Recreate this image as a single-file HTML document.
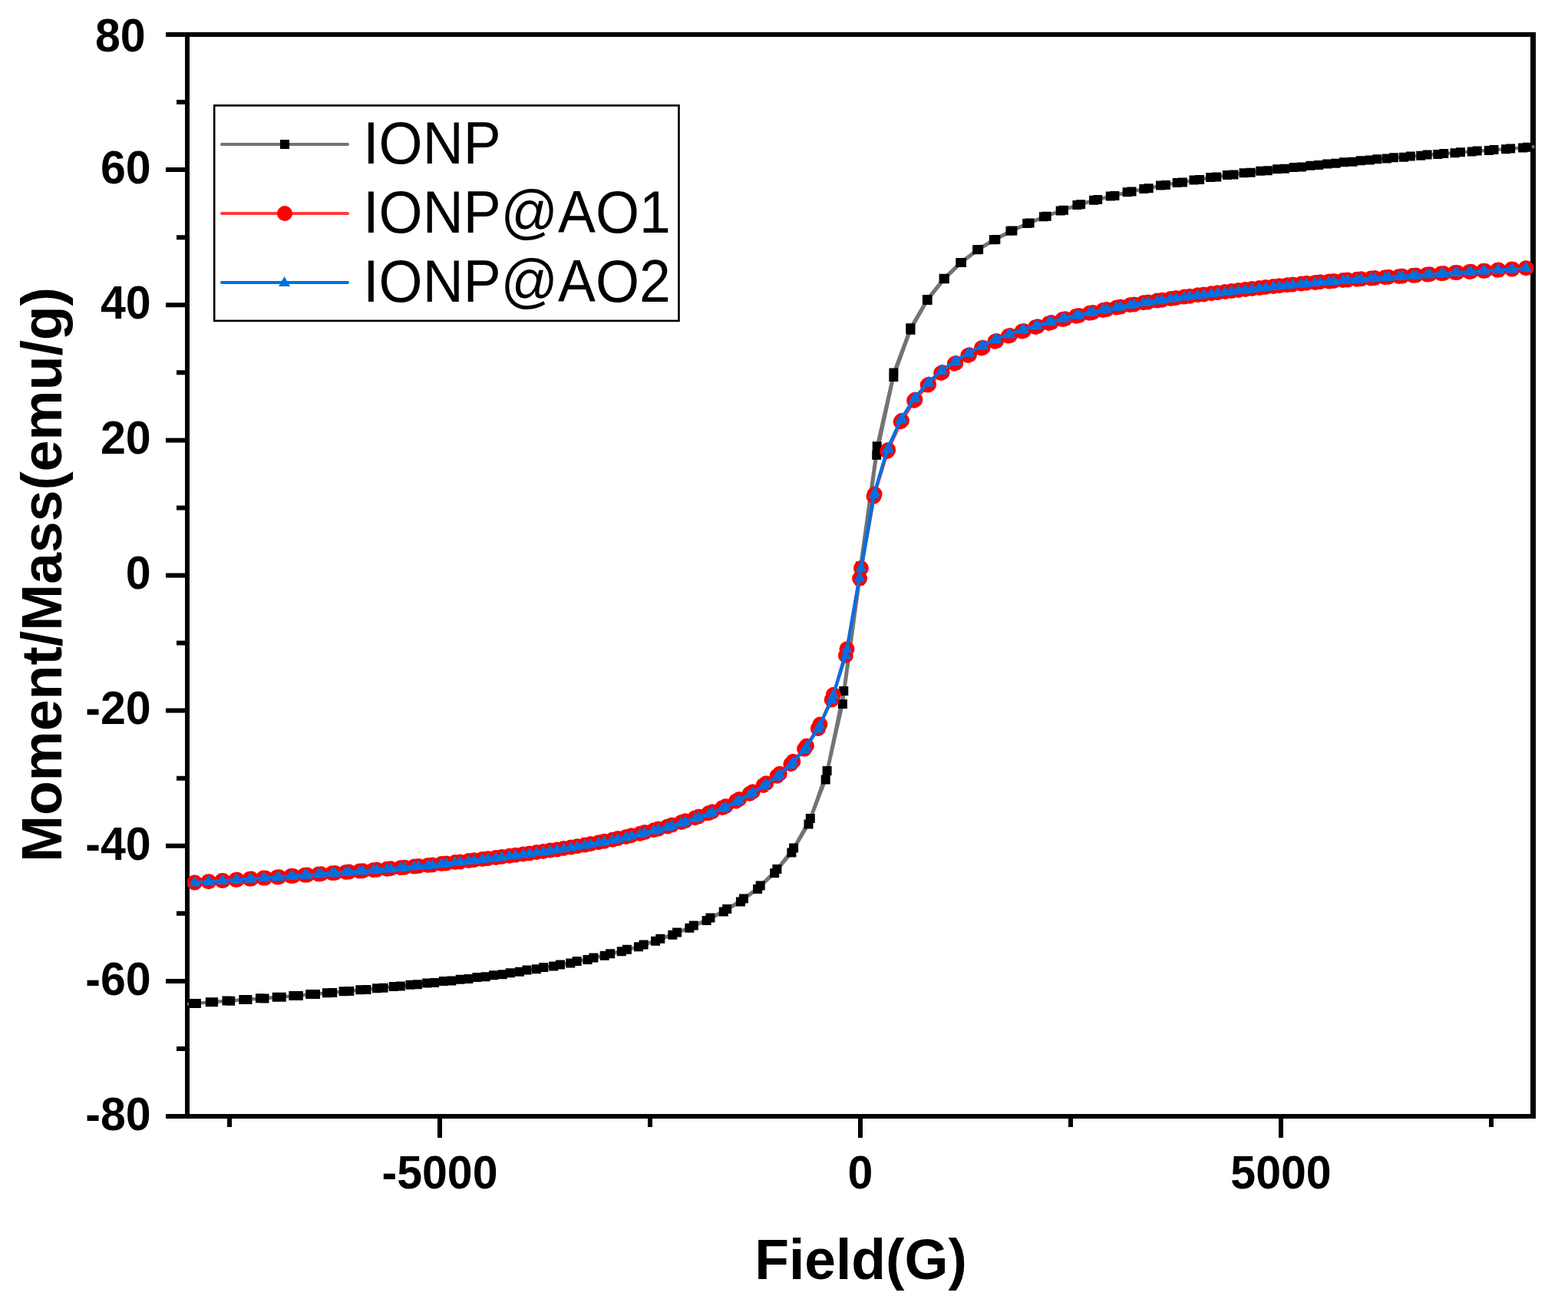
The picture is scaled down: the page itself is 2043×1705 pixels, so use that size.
<!DOCTYPE html>
<html><head><meta charset="utf-8"><title>Moment/Mass vs Field</title>
<style>html,body{margin:0;padding:0;background:#fff;}svg{display:block;}.ff{font-family:"Liberation Sans",Arial,sans-serif;}</style>
</head><body>
<svg width="2043" height="1705" viewBox="0 0 2043 1705">
<defs><clipPath id="cp"><rect x="244.0" y="42.0" width="1755.5" height="1415.0"/></clipPath>
</defs>
<rect width="100%" height="100%" fill="#fff"/>
<path d="M216 1454 H244 M216 1277.9 H244 M216 1101.8 H244 M216 925.6 H244 M216 749.5 H244 M216 573.4 H244 M216 397.2 H244 M216 221.1 H244 M216 45 H244 M230 1365.9 H244 M230 1189.8 H244 M230 1013.7 H244 M230 837.6 H244 M230 661.4 H244 M230 485.3 H244 M230 309.2 H244 M230 133.1 H244 M573 1454 V1482 M1121 1454 V1482 M1669 1454 V1482 M299 1454 V1468 M847 1454 V1468 M1395 1454 V1468 M1943 1454 V1468" stroke="#000" stroke-width="6" fill="none"/>
<path fill="#000" d="M241 42H2001V48H241z M241 1451H2001V1457H241z M241 42H247V1457H241z M1994 42H2001V1457H1994z"/>
<g class="ff" font-weight="bold" font-size="62" fill="#000">
<text transform="translate(196.7 1471.8) scale(0.953 1)" text-anchor="end">-80</text>
<text transform="translate(196.7 1295.7) scale(0.953 1)" text-anchor="end">-60</text>
<text transform="translate(196.7 1119.5) scale(0.953 1)" text-anchor="end">-40</text>
<text transform="translate(196.7 943.4) scale(0.953 1)" text-anchor="end">-20</text>
<text transform="translate(196.7 767.3) scale(0.953 1)" text-anchor="end">0</text>
<text transform="translate(196.7 591.2) scale(0.953 1)" text-anchor="end">20</text>
<text transform="translate(196.7 415.1) scale(0.953 1)" text-anchor="end">40</text>
<text transform="translate(196.7 238.9) scale(0.953 1)" text-anchor="end">60</text>
<text transform="translate(189.6 67.3) scale(0.953 1)" text-anchor="end">80</text>
<text transform="translate(573 1548.4) scale(0.953 1)" text-anchor="middle">-5000</text>
<text transform="translate(1121 1548.4) scale(0.953 1)" text-anchor="middle">0</text>
<text transform="translate(1669 1548.4) scale(0.953 1)" text-anchor="middle">5000</text>
</g>
<g class="ff" font-weight="bold" font-size="75" fill="#000">
<text transform="translate(1121.5 1666) scale(0.977 1)" text-anchor="middle">Field(G)</text>
<text transform="translate(80 748.5) rotate(-90) scale(0.977 1)" text-anchor="middle">Moment/Mass(emu/g)</text>
</g>
<g clip-path="url(#cp)">
<path d="M1999.4 191.1 L1989.9 191.7 L1968.2 193.4 L1946.5 195 L1924.7 196.6 L1903 198.2 L1881.3 199.9 L1859.6 201.6 L1837.8 203.4 L1816.1 205.3 L1794.4 207.3 L1772.7 209.3 L1751 211.3 L1729.2 213.5 L1707.5 215.7 L1685.8 218 L1664.1 220.3 L1642.3 222.8 L1620.6 225.3 L1598.9 228.1 L1577.2 231.1 L1555.5 234.6 L1533.7 238 L1512 241.6 L1490.3 245.9 L1468.6 250.3 L1446.8 255.5 L1425.1 260.7 L1403.4 266.9 L1381.7 274.4 L1359.9 282.3 L1338.2 291.1 L1316.5 300.8 L1294.8 312.2 L1273.1 325.3 L1251.3 341.9 L1229.6 362.8 L1207.9 389.9 L1186.2 427.3 L1164.4 485.6 L1142.7 581.3 L1121 737.4 L1099.3 900 L1077.6 1004 L1055.8 1065.9 L1034.1 1104.4 L1012.4 1132.1 L990.7 1153.5 L968.9 1170.5 L947.2 1184 L925.5 1195.6 L903.8 1205.6 L882.1 1214.6 L860.3 1222.7 L838.6 1230.4 L816.9 1236.8 L795.2 1242.2 L773.4 1247.5 L751.7 1252 L730 1256.5 L708.3 1260.1 L686.5 1263.6 L664.8 1267.2 L643.1 1270.3 L621.4 1273.1 L599.7 1275.7 L577.9 1278.1 L556.2 1280.5 L534.5 1282.8 L512.8 1285 L491 1287.2 L469.3 1289.3 L447.6 1291.3 L425.9 1293.2 L404.2 1295.1 L382.4 1296.9 L360.7 1298.7 L339 1300.3 L317.3 1301.9 L295.5 1303.6 L273.8 1305.2 L252.1 1306.9 L242.6 1307.9 L255.9 1307 L278.1 1305.3 L300.2 1303.7 L322.4 1302 L344.5 1300.4 L366.7 1298.7 L388.8 1296.9 L411 1295 L433.2 1293 L455.3 1291 L477.5 1289 L499.6 1286.8 L521.8 1284.6 L543.9 1282.3 L566.1 1279.9 L588.3 1277.5 L610.4 1274.9 L632.6 1272.2 L654.7 1269.2 L676.9 1265.8 L699 1262.2 L721.2 1258.6 L743.3 1254.4 L765.5 1249.9 L787.7 1244.7 L809.8 1239.3 L832 1233.3 L854.1 1225.8 L876.3 1217.7 L898.4 1208.8 L920.6 1198.9 L942.8 1187.6 L964.9 1174.5 L987.1 1158.1 L1009.2 1137.3 L1031.4 1110.6 L1053.5 1073.6 L1075.7 1015.6 L1097.9 916.9 L1120 756.3 L1142.2 592.7 L1164.3 490.9 L1186.5 429.7 L1208.6 391.1 L1230.8 363.3 L1253 342 L1275.1 325.1 L1297.3 311.9 L1319.4 300.4 L1341.6 290.6 L1363.7 281.7 L1385.9 273.7 L1408.1 266.2 L1430.2 260.1 L1452.4 254.9 L1474.5 249.6 L1496.7 245.3 L1518.8 240.9 L1541 237.4 L1563.1 233.9 L1585.3 230.4 L1607.5 227.5 L1629.6 224.7 L1651.8 222.2 L1673.9 219.7 L1696.1 217.4 L1718.2 215.1 L1740.4 212.8 L1762.6 210.7 L1784.7 208.6 L1806.9 206.6 L1829 204.7 L1851.2 202.8 L1873.3 201 L1895.5 199.2 L1917.7 197.6 L1939.8 195.9 L1962 194.3 L1984.1 192.6 L1999.4 191.1" fill="none" stroke="#737373" stroke-width="4" stroke-linejoin="round" stroke-linecap="round"/>
<path fill="#000" d="M1983.9 185.7h12v12h-12zM1962.2 187.4h12v12h-12zM1940.5 189h12v12h-12zM1918.7 190.6h12v12h-12zM1897 192.2h12v12h-12zM1875.3 193.9h12v12h-12zM1853.6 195.6h12v12h-12zM1831.8 197.4h12v12h-12zM1810.1 199.3h12v12h-12zM1788.4 201.3h12v12h-12zM1766.7 203.3h12v12h-12zM1745 205.3h12v12h-12zM1723.2 207.5h12v12h-12zM1701.5 209.7h12v12h-12zM1679.8 212h12v12h-12zM1658.1 214.3h12v12h-12zM1636.3 216.8h12v12h-12zM1614.6 219.3h12v12h-12zM1592.9 222.1h12v12h-12zM1571.2 225.1h12v12h-12zM1549.5 228.6h12v12h-12zM1527.7 232h12v12h-12zM1506 235.6h12v12h-12zM1484.3 239.9h12v12h-12zM1462.6 244.3h12v12h-12zM1440.8 249.5h12v12h-12zM1419.1 254.7h12v12h-12zM1397.4 260.9h12v12h-12zM1375.7 268.4h12v12h-12zM1353.9 276.3h12v12h-12zM1332.2 285.1h12v12h-12zM1310.5 294.8h12v12h-12zM1288.8 306.2h12v12h-12zM1267.1 319.3h12v12h-12zM1245.3 335.9h12v12h-12zM1223.6 356.8h12v12h-12zM1201.9 383.9h12v12h-12zM1180.2 421.3h12v12h-12zM1158.4 479.6h12v12h-12zM1136.7 575.3h12v12h-12zM1115 731.4h12v12h-12zM1093.3 894h12v12h-12zM1071.6 998h12v12h-12zM1049.8 1059.9h12v12h-12zM1028.1 1098.4h12v12h-12zM1006.4 1126.1h12v12h-12zM984.7 1147.5h12v12h-12zM962.9 1164.5h12v12h-12zM941.2 1178h12v12h-12zM919.5 1189.6h12v12h-12zM897.8 1199.6h12v12h-12zM876.1 1208.6h12v12h-12zM854.3 1216.7h12v12h-12zM832.6 1224.4h12v12h-12zM810.9 1230.8h12v12h-12zM789.2 1236.2h12v12h-12zM767.4 1241.5h12v12h-12zM745.7 1246h12v12h-12zM724 1250.5h12v12h-12zM702.3 1254.1h12v12h-12zM680.5 1257.6h12v12h-12zM658.8 1261.2h12v12h-12zM637.1 1264.3h12v12h-12zM615.4 1267.1h12v12h-12zM593.7 1269.7h12v12h-12zM571.9 1272.1h12v12h-12zM550.2 1274.5h12v12h-12zM528.5 1276.8h12v12h-12zM506.8 1279h12v12h-12zM485 1281.2h12v12h-12zM463.3 1283.3h12v12h-12zM441.6 1285.3h12v12h-12zM419.9 1287.2h12v12h-12zM398.2 1289.1h12v12h-12zM376.4 1290.9h12v12h-12zM354.7 1292.7h12v12h-12zM333 1294.3h12v12h-12zM311.3 1295.9h12v12h-12zM289.5 1297.6h12v12h-12zM267.8 1299.2h12v12h-12zM246.1 1300.9h12v12h-12zM249.9 1301h12v12h-12zM272.1 1299.3h12v12h-12zM294.2 1297.7h12v12h-12zM316.4 1296h12v12h-12zM338.5 1294.4h12v12h-12zM360.7 1292.7h12v12h-12zM382.8 1290.9h12v12h-12zM405 1289h12v12h-12zM427.2 1287h12v12h-12zM449.3 1285h12v12h-12zM471.5 1283h12v12h-12zM493.6 1280.8h12v12h-12zM515.8 1278.6h12v12h-12zM537.9 1276.3h12v12h-12zM560.1 1273.9h12v12h-12zM582.3 1271.5h12v12h-12zM604.4 1268.9h12v12h-12zM626.6 1266.2h12v12h-12zM648.7 1263.2h12v12h-12zM670.9 1259.8h12v12h-12zM693 1256.2h12v12h-12zM715.2 1252.6h12v12h-12zM737.3 1248.4h12v12h-12zM759.5 1243.9h12v12h-12zM781.7 1238.7h12v12h-12zM803.8 1233.3h12v12h-12zM826 1227.3h12v12h-12zM848.1 1219.8h12v12h-12zM870.3 1211.7h12v12h-12zM892.4 1202.8h12v12h-12zM914.6 1192.9h12v12h-12zM936.8 1181.6h12v12h-12zM958.9 1168.5h12v12h-12zM981.1 1152.1h12v12h-12zM1003.2 1131.3h12v12h-12zM1025.4 1104.6h12v12h-12zM1047.5 1067.6h12v12h-12zM1069.7 1009.6h12v12h-12zM1091.9 910.9h12v12h-12zM1114 750.3h12v12h-12zM1136.2 586.7h12v12h-12zM1158.3 484.9h12v12h-12zM1180.5 423.7h12v12h-12zM1202.6 385.1h12v12h-12zM1224.8 357.3h12v12h-12zM1247 336h12v12h-12zM1269.1 319.1h12v12h-12zM1291.3 305.9h12v12h-12zM1313.4 294.4h12v12h-12zM1335.6 284.6h12v12h-12zM1357.7 275.7h12v12h-12zM1379.9 267.7h12v12h-12zM1402.1 260.2h12v12h-12zM1424.2 254.1h12v12h-12zM1446.4 248.9h12v12h-12zM1468.5 243.6h12v12h-12zM1490.7 239.3h12v12h-12zM1512.8 234.9h12v12h-12zM1535 231.4h12v12h-12zM1557.1 227.9h12v12h-12zM1579.3 224.4h12v12h-12zM1601.5 221.5h12v12h-12zM1623.6 218.7h12v12h-12zM1645.8 216.2h12v12h-12zM1667.9 213.7h12v12h-12zM1690.1 211.4h12v12h-12zM1712.2 209.1h12v12h-12zM1734.4 206.8h12v12h-12zM1756.6 204.7h12v12h-12zM1778.7 202.6h12v12h-12zM1800.9 200.6h12v12h-12zM1823 198.7h12v12h-12zM1845.2 196.8h12v12h-12zM1867.3 195h12v12h-12zM1889.5 193.2h12v12h-12zM1911.7 191.6h12v12h-12zM1933.8 189.9h12v12h-12zM1956 188.3h12v12h-12zM1978.1 186.6h12v12h-12z"/>
<path d="M1988.8 349.2 L1970.7 350.4 L1952.7 351.6 L1934.7 352.7 L1916.7 353.8 L1898.7 354.9 L1880.8 356 L1862.9 357.2 L1845 358.4 L1827.1 359.6 L1809.2 360.8 L1791.3 362 L1773.5 363.3 L1755.7 364.6 L1737.9 365.9 L1720.1 367.3 L1702.3 368.8 L1684.5 370.4 L1666.8 372.2 L1649 374 L1631.3 376 L1613.6 378 L1595.9 380.1 L1578.2 382.2 L1560.5 384.3 L1542.9 386.6 L1525.2 389 L1507.6 391.6 L1489.9 394.3 L1472.3 397.3 L1454.7 400.5 L1437.1 404 L1419.5 407.8 L1401.9 411.8 L1384.3 416.1 L1366.7 420.9 L1349.1 426 L1331.6 431.6 L1314 437.6 L1296.4 444.7 L1278.9 453.4 L1261.3 462.9 L1243.8 473.7 L1226.2 485.9 L1208.7 501.6 L1191.1 521.7 L1173.6 549.3 L1156.1 587.8 L1138.5 646.4 L1121.9 740.1 L1103.5 845.2 L1085.9 904.7 L1068.4 943.6 L1050.9 971.5 L1033.3 991.8 L1015.8 1007.8 L998.2 1020.2 L980.7 1031.3 L963.1 1041 L945.6 1050 L928 1057.3 L910.4 1063.5 L892.9 1069.3 L875.3 1074.6 L857.7 1079.6 L840.1 1084.1 L822.5 1088.3 L804.9 1092.1 L787.3 1095.7 L769.7 1099.1 L752.1 1102.2 L734.4 1105 L716.8 1107.6 L699.1 1110.1 L681.5 1112.5 L663.8 1114.7 L646.1 1116.9 L628.4 1119 L610.7 1121.1 L593 1123.1 L575.2 1125.1 L557.5 1126.9 L539.7 1128.6 L521.9 1130.2 L504.1 1131.7 L486.3 1133.2 L468.5 1134.6 L450.7 1135.9 L432.8 1137.2 L414.9 1138.5 L397 1139.8 L379.1 1141.1 L361.2 1142.4 L343.3 1143.6 L325.3 1144.7 L307.3 1145.9 L289.3 1147.1 L271.3 1148.3 L253.2 1149.5 L254.1 1149.5 L272.4 1148.2 L290.7 1147 L309 1145.8 L327.3 1144.6 L345.5 1143.4 L363.8 1142.2 L382 1140.9 L400.2 1139.6 L418.4 1138.3 L436.6 1137 L454.7 1135.6 L472.8 1134.3 L491 1132.8 L509.1 1131.3 L527.2 1129.8 L545.2 1128.1 L563.3 1126.4 L581.5 1124.5 L599.6 1122.4 L617.6 1120.3 L635.7 1118.2 L653.8 1116 L671.8 1113.7 L689.9 1111.4 L707.9 1109 L725.9 1106.4 L743.9 1103.6 L761.9 1100.6 L779.9 1097.3 L797.9 1093.7 L815.8 1089.9 L833.8 1085.7 L851.8 1081.3 L869.7 1076.4 L887.6 1071.1 L905.5 1065.3 L923.4 1059.1 L941.2 1052.1 L959 1043.4 L976.8 1033.8 L994.7 1022.9 L1012.5 1010.7 L1030.3 995.3 L1048.1 975.6 L1065.9 948.9 L1083.7 911.4 L1101.9 853.8 L1120.1 753.5 L1139.6 643.6 L1157.2 585.9 L1174.9 547.8 L1192.5 520.6 L1210.1 500.7 L1227.7 485.1 L1245.3 473 L1263 462.2 L1280.6 452.8 L1298.2 444.1 L1315.9 437.1 L1333.8 431 L1351.8 425.3 L1369.8 420.1 L1387.8 415.3 L1405.9 410.9 L1423.9 406.9 L1441.9 403.1 L1459.9 399.6 L1477.9 396.4 L1495.9 393.4 L1514 390.7 L1532.1 388.1 L1550.3 385.7 L1568.4 383.4 L1586.5 381.2 L1604.7 379.1 L1622.8 377 L1640.9 375 L1659 373 L1677.1 371.2 L1695.3 369.5 L1713.4 367.9 L1731.6 366.4 L1749.8 365 L1768 363.7 L1786.2 362.4 L1804.5 361.2 L1822.7 359.9 L1841 358.7 L1859.3 357.4 L1877.6 356.3 L1895.9 355.1 L1914.3 354 L1932.6 352.8 L1951 351.7 L1969.4 350.5 L1987.9 349.3" fill="none" stroke="#ff3c3c" stroke-width="4" stroke-linejoin="round" stroke-linecap="round"/>
<path fill="#ff0000" d="M1978.8 349.2a10 10 0 1 0 20 0a10 10 0 1 0 -20 0zM1960.7 350.4a10 10 0 1 0 20 0a10 10 0 1 0 -20 0zM1942.7 351.6a10 10 0 1 0 20 0a10 10 0 1 0 -20 0zM1924.7 352.7a10 10 0 1 0 20 0a10 10 0 1 0 -20 0zM1906.7 353.8a10 10 0 1 0 20 0a10 10 0 1 0 -20 0zM1888.7 354.9a10 10 0 1 0 20 0a10 10 0 1 0 -20 0zM1870.8 356a10 10 0 1 0 20 0a10 10 0 1 0 -20 0zM1852.9 357.2a10 10 0 1 0 20 0a10 10 0 1 0 -20 0zM1835 358.4a10 10 0 1 0 20 0a10 10 0 1 0 -20 0zM1817.1 359.6a10 10 0 1 0 20 0a10 10 0 1 0 -20 0zM1799.2 360.8a10 10 0 1 0 20 0a10 10 0 1 0 -20 0zM1781.3 362a10 10 0 1 0 20 0a10 10 0 1 0 -20 0zM1763.5 363.3a10 10 0 1 0 20 0a10 10 0 1 0 -20 0zM1745.7 364.6a10 10 0 1 0 20 0a10 10 0 1 0 -20 0zM1727.9 365.9a10 10 0 1 0 20 0a10 10 0 1 0 -20 0zM1710.1 367.3a10 10 0 1 0 20 0a10 10 0 1 0 -20 0zM1692.3 368.8a10 10 0 1 0 20 0a10 10 0 1 0 -20 0zM1674.5 370.4a10 10 0 1 0 20 0a10 10 0 1 0 -20 0zM1656.8 372.2a10 10 0 1 0 20 0a10 10 0 1 0 -20 0zM1639 374a10 10 0 1 0 20 0a10 10 0 1 0 -20 0zM1621.3 376a10 10 0 1 0 20 0a10 10 0 1 0 -20 0zM1603.6 378a10 10 0 1 0 20 0a10 10 0 1 0 -20 0zM1585.9 380.1a10 10 0 1 0 20 0a10 10 0 1 0 -20 0zM1568.2 382.2a10 10 0 1 0 20 0a10 10 0 1 0 -20 0zM1550.5 384.3a10 10 0 1 0 20 0a10 10 0 1 0 -20 0zM1532.9 386.6a10 10 0 1 0 20 0a10 10 0 1 0 -20 0zM1515.2 389a10 10 0 1 0 20 0a10 10 0 1 0 -20 0zM1497.6 391.6a10 10 0 1 0 20 0a10 10 0 1 0 -20 0zM1479.9 394.3a10 10 0 1 0 20 0a10 10 0 1 0 -20 0zM1462.3 397.3a10 10 0 1 0 20 0a10 10 0 1 0 -20 0zM1444.7 400.5a10 10 0 1 0 20 0a10 10 0 1 0 -20 0zM1427.1 404a10 10 0 1 0 20 0a10 10 0 1 0 -20 0zM1409.5 407.8a10 10 0 1 0 20 0a10 10 0 1 0 -20 0zM1391.9 411.8a10 10 0 1 0 20 0a10 10 0 1 0 -20 0zM1374.3 416.1a10 10 0 1 0 20 0a10 10 0 1 0 -20 0zM1356.7 420.9a10 10 0 1 0 20 0a10 10 0 1 0 -20 0zM1339.1 426a10 10 0 1 0 20 0a10 10 0 1 0 -20 0zM1321.6 431.6a10 10 0 1 0 20 0a10 10 0 1 0 -20 0zM1304 437.6a10 10 0 1 0 20 0a10 10 0 1 0 -20 0zM1286.4 444.7a10 10 0 1 0 20 0a10 10 0 1 0 -20 0zM1268.9 453.4a10 10 0 1 0 20 0a10 10 0 1 0 -20 0zM1251.3 462.9a10 10 0 1 0 20 0a10 10 0 1 0 -20 0zM1233.8 473.7a10 10 0 1 0 20 0a10 10 0 1 0 -20 0zM1216.2 485.9a10 10 0 1 0 20 0a10 10 0 1 0 -20 0zM1198.7 501.6a10 10 0 1 0 20 0a10 10 0 1 0 -20 0zM1181.1 521.7a10 10 0 1 0 20 0a10 10 0 1 0 -20 0zM1163.6 549.3a10 10 0 1 0 20 0a10 10 0 1 0 -20 0zM1146.1 587.8a10 10 0 1 0 20 0a10 10 0 1 0 -20 0zM1128.5 646.4a10 10 0 1 0 20 0a10 10 0 1 0 -20 0zM1111.9 740.1a10 10 0 1 0 20 0a10 10 0 1 0 -20 0zM1093.5 845.2a10 10 0 1 0 20 0a10 10 0 1 0 -20 0zM1075.9 904.7a10 10 0 1 0 20 0a10 10 0 1 0 -20 0zM1058.4 943.6a10 10 0 1 0 20 0a10 10 0 1 0 -20 0zM1040.9 971.5a10 10 0 1 0 20 0a10 10 0 1 0 -20 0zM1023.3 991.8a10 10 0 1 0 20 0a10 10 0 1 0 -20 0zM1005.8 1007.8a10 10 0 1 0 20 0a10 10 0 1 0 -20 0zM988.2 1020.2a10 10 0 1 0 20 0a10 10 0 1 0 -20 0zM970.7 1031.3a10 10 0 1 0 20 0a10 10 0 1 0 -20 0zM953.1 1041a10 10 0 1 0 20 0a10 10 0 1 0 -20 0zM935.6 1050a10 10 0 1 0 20 0a10 10 0 1 0 -20 0zM918 1057.3a10 10 0 1 0 20 0a10 10 0 1 0 -20 0zM900.4 1063.5a10 10 0 1 0 20 0a10 10 0 1 0 -20 0zM882.9 1069.3a10 10 0 1 0 20 0a10 10 0 1 0 -20 0zM865.3 1074.6a10 10 0 1 0 20 0a10 10 0 1 0 -20 0zM847.7 1079.6a10 10 0 1 0 20 0a10 10 0 1 0 -20 0zM830.1 1084.1a10 10 0 1 0 20 0a10 10 0 1 0 -20 0zM812.5 1088.3a10 10 0 1 0 20 0a10 10 0 1 0 -20 0zM794.9 1092.1a10 10 0 1 0 20 0a10 10 0 1 0 -20 0zM777.3 1095.7a10 10 0 1 0 20 0a10 10 0 1 0 -20 0zM759.7 1099.1a10 10 0 1 0 20 0a10 10 0 1 0 -20 0zM742.1 1102.2a10 10 0 1 0 20 0a10 10 0 1 0 -20 0zM724.4 1105a10 10 0 1 0 20 0a10 10 0 1 0 -20 0zM706.8 1107.6a10 10 0 1 0 20 0a10 10 0 1 0 -20 0zM689.1 1110.1a10 10 0 1 0 20 0a10 10 0 1 0 -20 0zM671.5 1112.5a10 10 0 1 0 20 0a10 10 0 1 0 -20 0zM653.8 1114.7a10 10 0 1 0 20 0a10 10 0 1 0 -20 0zM636.1 1116.9a10 10 0 1 0 20 0a10 10 0 1 0 -20 0zM618.4 1119a10 10 0 1 0 20 0a10 10 0 1 0 -20 0zM600.7 1121.1a10 10 0 1 0 20 0a10 10 0 1 0 -20 0zM583 1123.1a10 10 0 1 0 20 0a10 10 0 1 0 -20 0zM565.2 1125.1a10 10 0 1 0 20 0a10 10 0 1 0 -20 0zM547.5 1126.9a10 10 0 1 0 20 0a10 10 0 1 0 -20 0zM529.7 1128.6a10 10 0 1 0 20 0a10 10 0 1 0 -20 0zM511.9 1130.2a10 10 0 1 0 20 0a10 10 0 1 0 -20 0zM494.1 1131.7a10 10 0 1 0 20 0a10 10 0 1 0 -20 0zM476.3 1133.2a10 10 0 1 0 20 0a10 10 0 1 0 -20 0zM458.5 1134.6a10 10 0 1 0 20 0a10 10 0 1 0 -20 0zM440.7 1135.9a10 10 0 1 0 20 0a10 10 0 1 0 -20 0zM422.8 1137.2a10 10 0 1 0 20 0a10 10 0 1 0 -20 0zM404.9 1138.5a10 10 0 1 0 20 0a10 10 0 1 0 -20 0zM387 1139.8a10 10 0 1 0 20 0a10 10 0 1 0 -20 0zM369.1 1141.1a10 10 0 1 0 20 0a10 10 0 1 0 -20 0zM351.2 1142.4a10 10 0 1 0 20 0a10 10 0 1 0 -20 0zM333.3 1143.6a10 10 0 1 0 20 0a10 10 0 1 0 -20 0zM315.3 1144.7a10 10 0 1 0 20 0a10 10 0 1 0 -20 0zM297.3 1145.9a10 10 0 1 0 20 0a10 10 0 1 0 -20 0zM279.3 1147.1a10 10 0 1 0 20 0a10 10 0 1 0 -20 0zM261.3 1148.3a10 10 0 1 0 20 0a10 10 0 1 0 -20 0zM243.2 1149.5a10 10 0 1 0 20 0a10 10 0 1 0 -20 0zM244.1 1149.5a10 10 0 1 0 20 0a10 10 0 1 0 -20 0zM262.4 1148.2a10 10 0 1 0 20 0a10 10 0 1 0 -20 0zM280.7 1147a10 10 0 1 0 20 0a10 10 0 1 0 -20 0zM299 1145.8a10 10 0 1 0 20 0a10 10 0 1 0 -20 0zM317.3 1144.6a10 10 0 1 0 20 0a10 10 0 1 0 -20 0zM335.5 1143.4a10 10 0 1 0 20 0a10 10 0 1 0 -20 0zM353.8 1142.2a10 10 0 1 0 20 0a10 10 0 1 0 -20 0zM372 1140.9a10 10 0 1 0 20 0a10 10 0 1 0 -20 0zM390.2 1139.6a10 10 0 1 0 20 0a10 10 0 1 0 -20 0zM408.4 1138.3a10 10 0 1 0 20 0a10 10 0 1 0 -20 0zM426.6 1137a10 10 0 1 0 20 0a10 10 0 1 0 -20 0zM444.7 1135.6a10 10 0 1 0 20 0a10 10 0 1 0 -20 0zM462.8 1134.3a10 10 0 1 0 20 0a10 10 0 1 0 -20 0zM481 1132.8a10 10 0 1 0 20 0a10 10 0 1 0 -20 0zM499.1 1131.3a10 10 0 1 0 20 0a10 10 0 1 0 -20 0zM517.2 1129.8a10 10 0 1 0 20 0a10 10 0 1 0 -20 0zM535.2 1128.1a10 10 0 1 0 20 0a10 10 0 1 0 -20 0zM553.3 1126.4a10 10 0 1 0 20 0a10 10 0 1 0 -20 0zM571.5 1124.5a10 10 0 1 0 20 0a10 10 0 1 0 -20 0zM589.6 1122.4a10 10 0 1 0 20 0a10 10 0 1 0 -20 0zM607.6 1120.3a10 10 0 1 0 20 0a10 10 0 1 0 -20 0zM625.7 1118.2a10 10 0 1 0 20 0a10 10 0 1 0 -20 0zM643.8 1116a10 10 0 1 0 20 0a10 10 0 1 0 -20 0zM661.8 1113.7a10 10 0 1 0 20 0a10 10 0 1 0 -20 0zM679.9 1111.4a10 10 0 1 0 20 0a10 10 0 1 0 -20 0zM697.9 1109a10 10 0 1 0 20 0a10 10 0 1 0 -20 0zM715.9 1106.4a10 10 0 1 0 20 0a10 10 0 1 0 -20 0zM733.9 1103.6a10 10 0 1 0 20 0a10 10 0 1 0 -20 0zM751.9 1100.6a10 10 0 1 0 20 0a10 10 0 1 0 -20 0zM769.9 1097.3a10 10 0 1 0 20 0a10 10 0 1 0 -20 0zM787.9 1093.7a10 10 0 1 0 20 0a10 10 0 1 0 -20 0zM805.8 1089.9a10 10 0 1 0 20 0a10 10 0 1 0 -20 0zM823.8 1085.7a10 10 0 1 0 20 0a10 10 0 1 0 -20 0zM841.8 1081.3a10 10 0 1 0 20 0a10 10 0 1 0 -20 0zM859.7 1076.4a10 10 0 1 0 20 0a10 10 0 1 0 -20 0zM877.6 1071.1a10 10 0 1 0 20 0a10 10 0 1 0 -20 0zM895.5 1065.3a10 10 0 1 0 20 0a10 10 0 1 0 -20 0zM913.4 1059.1a10 10 0 1 0 20 0a10 10 0 1 0 -20 0zM931.2 1052.1a10 10 0 1 0 20 0a10 10 0 1 0 -20 0zM949 1043.4a10 10 0 1 0 20 0a10 10 0 1 0 -20 0zM966.8 1033.8a10 10 0 1 0 20 0a10 10 0 1 0 -20 0zM984.7 1022.9a10 10 0 1 0 20 0a10 10 0 1 0 -20 0zM1002.5 1010.7a10 10 0 1 0 20 0a10 10 0 1 0 -20 0zM1020.3 995.3a10 10 0 1 0 20 0a10 10 0 1 0 -20 0zM1038.1 975.6a10 10 0 1 0 20 0a10 10 0 1 0 -20 0zM1055.9 948.9a10 10 0 1 0 20 0a10 10 0 1 0 -20 0zM1073.7 911.4a10 10 0 1 0 20 0a10 10 0 1 0 -20 0zM1091.9 853.8a10 10 0 1 0 20 0a10 10 0 1 0 -20 0zM1110.1 753.5a10 10 0 1 0 20 0a10 10 0 1 0 -20 0zM1129.6 643.6a10 10 0 1 0 20 0a10 10 0 1 0 -20 0zM1147.2 585.9a10 10 0 1 0 20 0a10 10 0 1 0 -20 0zM1164.9 547.8a10 10 0 1 0 20 0a10 10 0 1 0 -20 0zM1182.5 520.6a10 10 0 1 0 20 0a10 10 0 1 0 -20 0zM1200.1 500.7a10 10 0 1 0 20 0a10 10 0 1 0 -20 0zM1217.7 485.1a10 10 0 1 0 20 0a10 10 0 1 0 -20 0zM1235.3 473a10 10 0 1 0 20 0a10 10 0 1 0 -20 0zM1253 462.2a10 10 0 1 0 20 0a10 10 0 1 0 -20 0zM1270.6 452.8a10 10 0 1 0 20 0a10 10 0 1 0 -20 0zM1288.2 444.1a10 10 0 1 0 20 0a10 10 0 1 0 -20 0zM1305.9 437.1a10 10 0 1 0 20 0a10 10 0 1 0 -20 0zM1323.8 431a10 10 0 1 0 20 0a10 10 0 1 0 -20 0zM1341.8 425.3a10 10 0 1 0 20 0a10 10 0 1 0 -20 0zM1359.8 420.1a10 10 0 1 0 20 0a10 10 0 1 0 -20 0zM1377.8 415.3a10 10 0 1 0 20 0a10 10 0 1 0 -20 0zM1395.9 410.9a10 10 0 1 0 20 0a10 10 0 1 0 -20 0zM1413.9 406.9a10 10 0 1 0 20 0a10 10 0 1 0 -20 0zM1431.9 403.1a10 10 0 1 0 20 0a10 10 0 1 0 -20 0zM1449.9 399.6a10 10 0 1 0 20 0a10 10 0 1 0 -20 0zM1467.9 396.4a10 10 0 1 0 20 0a10 10 0 1 0 -20 0zM1485.9 393.4a10 10 0 1 0 20 0a10 10 0 1 0 -20 0zM1504 390.7a10 10 0 1 0 20 0a10 10 0 1 0 -20 0zM1522.1 388.1a10 10 0 1 0 20 0a10 10 0 1 0 -20 0zM1540.3 385.7a10 10 0 1 0 20 0a10 10 0 1 0 -20 0zM1558.4 383.4a10 10 0 1 0 20 0a10 10 0 1 0 -20 0zM1576.5 381.2a10 10 0 1 0 20 0a10 10 0 1 0 -20 0zM1594.7 379.1a10 10 0 1 0 20 0a10 10 0 1 0 -20 0zM1612.8 377a10 10 0 1 0 20 0a10 10 0 1 0 -20 0zM1630.9 375a10 10 0 1 0 20 0a10 10 0 1 0 -20 0zM1649 373a10 10 0 1 0 20 0a10 10 0 1 0 -20 0zM1667.1 371.2a10 10 0 1 0 20 0a10 10 0 1 0 -20 0zM1685.3 369.5a10 10 0 1 0 20 0a10 10 0 1 0 -20 0zM1703.4 367.9a10 10 0 1 0 20 0a10 10 0 1 0 -20 0zM1721.6 366.4a10 10 0 1 0 20 0a10 10 0 1 0 -20 0zM1739.8 365a10 10 0 1 0 20 0a10 10 0 1 0 -20 0zM1758 363.7a10 10 0 1 0 20 0a10 10 0 1 0 -20 0zM1776.2 362.4a10 10 0 1 0 20 0a10 10 0 1 0 -20 0zM1794.5 361.2a10 10 0 1 0 20 0a10 10 0 1 0 -20 0zM1812.7 359.9a10 10 0 1 0 20 0a10 10 0 1 0 -20 0zM1831 358.7a10 10 0 1 0 20 0a10 10 0 1 0 -20 0zM1849.3 357.4a10 10 0 1 0 20 0a10 10 0 1 0 -20 0zM1867.6 356.3a10 10 0 1 0 20 0a10 10 0 1 0 -20 0zM1885.9 355.1a10 10 0 1 0 20 0a10 10 0 1 0 -20 0zM1904.3 354a10 10 0 1 0 20 0a10 10 0 1 0 -20 0zM1922.6 352.8a10 10 0 1 0 20 0a10 10 0 1 0 -20 0zM1941 351.7a10 10 0 1 0 20 0a10 10 0 1 0 -20 0zM1959.4 350.5a10 10 0 1 0 20 0a10 10 0 1 0 -20 0zM1977.9 349.3a10 10 0 1 0 20 0a10 10 0 1 0 -20 0z"/>
<path d="M1988.8 349.2 L1970.7 350.4 L1952.7 351.6 L1934.7 352.7 L1916.7 353.8 L1898.7 354.9 L1880.8 356 L1862.9 357.2 L1845 358.4 L1827.1 359.6 L1809.2 360.8 L1791.3 362 L1773.5 363.3 L1755.7 364.6 L1737.9 365.9 L1720.1 367.3 L1702.3 368.8 L1684.5 370.4 L1666.8 372.2 L1649 374 L1631.3 376 L1613.6 378 L1595.9 380 L1578.2 382.1 L1560.5 384.3 L1542.9 386.5 L1525.2 388.9 L1507.6 391.4 L1489.9 394.1 L1472.3 397 L1454.7 400.1 L1437.1 403.4 L1419.5 407 L1401.9 410.8 L1384.3 414.9 L1366.7 419.4 L1349.1 424.4 L1331.6 429.7 L1314 435.4 L1296.4 442.3 L1278.9 450.8 L1261.3 460.2 L1243.8 470.9 L1226.2 483.1 L1208.7 498.8 L1191.1 518.9 L1173.6 546.5 L1156.1 585.1 L1138.5 644.2 L1121.9 739.2 L1103.5 845 L1085.9 904.9 L1068.4 944.2 L1050.9 972.3 L1033.3 992.8 L1015.8 1008.8 L998.2 1021.3 L980.7 1032.3 L963.1 1042 L945.6 1050.9 L928 1058.1 L910.4 1064.2 L892.9 1069.9 L875.3 1075.2 L857.7 1080 L840.1 1084.5 L822.5 1088.5 L804.9 1092.4 L787.3 1095.9 L769.7 1099.2 L752.1 1102.3 L734.4 1105.1 L716.8 1107.7 L699.1 1110.1 L681.5 1112.5 L663.8 1114.7 L646.1 1116.9 L628.4 1119 L610.7 1121.1 L593 1123.1 L575.2 1125.1 L557.5 1126.9 L539.7 1128.6 L521.9 1130.2 L504.1 1131.7 L486.3 1133.2 L468.5 1134.6 L450.7 1135.9 L432.8 1137.2 L414.9 1138.5 L397 1139.8 L379.1 1141.1 L361.2 1142.4 L343.3 1143.6 L325.3 1144.7 L307.3 1145.9 L289.3 1147.1 L271.3 1148.3 L253.2 1149.5 L254.1 1149.5 L272.4 1148.2 L290.7 1147 L309 1145.8 L327.3 1144.6 L345.5 1143.4 L363.8 1142.2 L382 1140.9 L400.2 1139.6 L418.4 1138.3 L436.6 1137 L454.7 1135.6 L472.8 1134.3 L491 1132.8 L509.1 1131.3 L527.2 1129.8 L545.2 1128.1 L563.3 1126.4 L581.5 1124.5 L599.6 1122.4 L617.6 1120.4 L635.7 1118.2 L653.8 1116 L671.8 1113.8 L689.9 1111.4 L707.9 1109 L725.9 1106.4 L743.9 1103.6 L761.9 1100.7 L779.9 1097.4 L797.9 1093.9 L815.8 1090.1 L833.8 1086.1 L851.8 1081.7 L869.7 1076.9 L887.6 1071.7 L905.5 1066 L923.4 1059.9 L941.2 1053 L959 1044.4 L976.8 1034.8 L994.7 1023.9 L1012.5 1011.7 L1030.3 996.3 L1048.1 976.5 L1065.9 949.5 L1083.7 911.7 L1101.9 853.6 L1120.1 752.6 L1139.6 641.4 L1157.2 583.2 L1174.9 545 L1192.5 517.7 L1210.1 497.8 L1227.7 482.3 L1245.3 470.2 L1263 459.5 L1280.6 450.2 L1298.2 441.7 L1315.9 435 L1333.8 429.1 L1351.8 423.7 L1369.8 418.7 L1387.8 414.2 L1405.9 410 L1423.9 406.2 L1441.9 402.6 L1459.9 399.2 L1477.9 396.1 L1495.9 393.2 L1514 390.5 L1532.1 388 L1550.3 385.6 L1568.4 383.4 L1586.5 381.2 L1604.7 379.1 L1622.8 377 L1640.9 374.9 L1659 373 L1677.1 371.2 L1695.3 369.5 L1713.4 367.9 L1731.6 366.4 L1749.8 365 L1768 363.7 L1786.2 362.4 L1804.5 361.2 L1822.7 359.9 L1841 358.7 L1859.3 357.4 L1877.6 356.3 L1895.9 355.1 L1914.3 354 L1932.6 352.8 L1951 351.7 L1969.4 350.5 L1987.9 349.3" fill="none" stroke="#0070e0" stroke-width="4" stroke-linejoin="round" stroke-linecap="round"/>
<path fill="#0070e0" d="M1988.8 341.2l7.5 13h-15zM1970.7 342.4l7.5 13h-15zM1952.7 343.6l7.5 13h-15zM1934.7 344.7l7.5 13h-15zM1916.7 345.8l7.5 13h-15zM1898.7 346.9l7.5 13h-15zM1880.8 348l7.5 13h-15zM1862.9 349.2l7.5 13h-15zM1845 350.4l7.5 13h-15zM1827.1 351.6l7.5 13h-15zM1809.2 352.8l7.5 13h-15zM1791.3 354l7.5 13h-15zM1773.5 355.3l7.5 13h-15zM1755.7 356.6l7.5 13h-15zM1737.9 357.9l7.5 13h-15zM1720.1 359.3l7.5 13h-15zM1702.3 360.8l7.5 13h-15zM1684.5 362.4l7.5 13h-15zM1666.8 364.2l7.5 13h-15zM1649 366l7.5 13h-15zM1631.3 368l7.5 13h-15zM1613.6 370l7.5 13h-15zM1595.9 372l7.5 13h-15zM1578.2 374.1l7.5 13h-15zM1560.5 376.3l7.5 13h-15zM1542.9 378.5l7.5 13h-15zM1525.2 380.9l7.5 13h-15zM1507.6 383.4l7.5 13h-15zM1489.9 386.1l7.5 13h-15zM1472.3 389l7.5 13h-15zM1454.7 392.1l7.5 13h-15zM1437.1 395.4l7.5 13h-15zM1419.5 399l7.5 13h-15zM1401.9 402.8l7.5 13h-15zM1384.3 406.9l7.5 13h-15zM1366.7 411.4l7.5 13h-15zM1349.1 416.4l7.5 13h-15zM1331.6 421.7l7.5 13h-15zM1314 427.4l7.5 13h-15zM1296.4 434.3l7.5 13h-15zM1278.9 442.8l7.5 13h-15zM1261.3 452.2l7.5 13h-15zM1243.8 462.9l7.5 13h-15zM1226.2 475.1l7.5 13h-15zM1208.7 490.8l7.5 13h-15zM1191.1 510.9l7.5 13h-15zM1173.6 538.5l7.5 13h-15zM1156.1 577.1l7.5 13h-15zM1138.5 636.2l7.5 13h-15zM1121.9 731.2l7.5 13h-15zM1103.5 837l7.5 13h-15zM1085.9 896.9l7.5 13h-15zM1068.4 936.2l7.5 13h-15zM1050.9 964.3l7.5 13h-15zM1033.3 984.8l7.5 13h-15zM1015.8 1000.8l7.5 13h-15zM998.2 1013.3l7.5 13h-15zM980.7 1024.3l7.5 13h-15zM963.1 1034l7.5 13h-15zM945.6 1042.9l7.5 13h-15zM928 1050.1l7.5 13h-15zM910.4 1056.2l7.5 13h-15zM892.9 1061.9l7.5 13h-15zM875.3 1067.2l7.5 13h-15zM857.7 1072l7.5 13h-15zM840.1 1076.5l7.5 13h-15zM822.5 1080.5l7.5 13h-15zM804.9 1084.4l7.5 13h-15zM787.3 1087.9l7.5 13h-15zM769.7 1091.2l7.5 13h-15zM752.1 1094.3l7.5 13h-15zM734.4 1097.1l7.5 13h-15zM716.8 1099.7l7.5 13h-15zM699.1 1102.1l7.5 13h-15zM681.5 1104.5l7.5 13h-15zM663.8 1106.7l7.5 13h-15zM646.1 1108.9l7.5 13h-15zM628.4 1111l7.5 13h-15zM610.7 1113.1l7.5 13h-15zM593 1115.1l7.5 13h-15zM575.2 1117.1l7.5 13h-15zM557.5 1118.9l7.5 13h-15zM539.7 1120.6l7.5 13h-15zM521.9 1122.2l7.5 13h-15zM504.1 1123.7l7.5 13h-15zM486.3 1125.2l7.5 13h-15zM468.5 1126.6l7.5 13h-15zM450.7 1127.9l7.5 13h-15zM432.8 1129.2l7.5 13h-15zM414.9 1130.5l7.5 13h-15zM397 1131.8l7.5 13h-15zM379.1 1133.1l7.5 13h-15zM361.2 1134.4l7.5 13h-15zM343.3 1135.6l7.5 13h-15zM325.3 1136.7l7.5 13h-15zM307.3 1137.9l7.5 13h-15zM289.3 1139.1l7.5 13h-15zM271.3 1140.3l7.5 13h-15zM253.2 1141.5l7.5 13h-15zM254.1 1141.5l7.5 13h-15zM272.4 1140.2l7.5 13h-15zM290.7 1139l7.5 13h-15zM309 1137.8l7.5 13h-15zM327.3 1136.6l7.5 13h-15zM345.5 1135.4l7.5 13h-15zM363.8 1134.2l7.5 13h-15zM382 1132.9l7.5 13h-15zM400.2 1131.6l7.5 13h-15zM418.4 1130.3l7.5 13h-15zM436.6 1129l7.5 13h-15zM454.7 1127.6l7.5 13h-15zM472.8 1126.3l7.5 13h-15zM491 1124.8l7.5 13h-15zM509.1 1123.3l7.5 13h-15zM527.2 1121.8l7.5 13h-15zM545.2 1120.1l7.5 13h-15zM563.3 1118.4l7.5 13h-15zM581.5 1116.5l7.5 13h-15zM599.6 1114.4l7.5 13h-15zM617.6 1112.4l7.5 13h-15zM635.7 1110.2l7.5 13h-15zM653.8 1108l7.5 13h-15zM671.8 1105.8l7.5 13h-15zM689.9 1103.4l7.5 13h-15zM707.9 1101l7.5 13h-15zM725.9 1098.4l7.5 13h-15zM743.9 1095.6l7.5 13h-15zM761.9 1092.7l7.5 13h-15zM779.9 1089.4l7.5 13h-15zM797.9 1085.9l7.5 13h-15zM815.8 1082.1l7.5 13h-15zM833.8 1078.1l7.5 13h-15zM851.8 1073.7l7.5 13h-15zM869.7 1068.9l7.5 13h-15zM887.6 1063.7l7.5 13h-15zM905.5 1058l7.5 13h-15zM923.4 1051.9l7.5 13h-15zM941.2 1045l7.5 13h-15zM959 1036.4l7.5 13h-15zM976.8 1026.8l7.5 13h-15zM994.7 1015.9l7.5 13h-15zM1012.5 1003.7l7.5 13h-15zM1030.3 988.3l7.5 13h-15zM1048.1 968.5l7.5 13h-15zM1065.9 941.5l7.5 13h-15zM1083.7 903.7l7.5 13h-15zM1101.9 845.6l7.5 13h-15zM1120.1 744.6l7.5 13h-15zM1139.6 633.4l7.5 13h-15zM1157.2 575.2l7.5 13h-15zM1174.9 537l7.5 13h-15zM1192.5 509.7l7.5 13h-15zM1210.1 489.8l7.5 13h-15zM1227.7 474.3l7.5 13h-15zM1245.3 462.2l7.5 13h-15zM1263 451.5l7.5 13h-15zM1280.6 442.2l7.5 13h-15zM1298.2 433.7l7.5 13h-15zM1315.9 427l7.5 13h-15zM1333.8 421.1l7.5 13h-15zM1351.8 415.7l7.5 13h-15zM1369.8 410.7l7.5 13h-15zM1387.8 406.2l7.5 13h-15zM1405.9 402l7.5 13h-15zM1423.9 398.2l7.5 13h-15zM1441.9 394.6l7.5 13h-15zM1459.9 391.2l7.5 13h-15zM1477.9 388.1l7.5 13h-15zM1495.9 385.2l7.5 13h-15zM1514 382.5l7.5 13h-15zM1532.1 380l7.5 13h-15zM1550.3 377.6l7.5 13h-15zM1568.4 375.4l7.5 13h-15zM1586.5 373.2l7.5 13h-15zM1604.7 371.1l7.5 13h-15zM1622.8 369l7.5 13h-15zM1640.9 366.9l7.5 13h-15zM1659 365l7.5 13h-15zM1677.1 363.2l7.5 13h-15zM1695.3 361.5l7.5 13h-15zM1713.4 359.9l7.5 13h-15zM1731.6 358.4l7.5 13h-15zM1749.8 357l7.5 13h-15zM1768 355.7l7.5 13h-15zM1786.2 354.4l7.5 13h-15zM1804.5 353.2l7.5 13h-15zM1822.7 351.9l7.5 13h-15zM1841 350.7l7.5 13h-15zM1859.3 349.4l7.5 13h-15zM1877.6 348.3l7.5 13h-15zM1895.9 347.1l7.5 13h-15zM1914.3 346l7.5 13h-15zM1932.6 344.8l7.5 13h-15zM1951 343.7l7.5 13h-15zM1969.4 342.5l7.5 13h-15zM1987.9 341.3l7.5 13h-15z"/>
</g>
<rect x="279.2" y="137.4" width="605.3" height="280.5" fill="#fff" stroke="#000" stroke-width="2.6"/>
<path d="M289 188 H453" stroke="#737373" stroke-width="4" stroke-linecap="round"/>
<rect x="365" y="182" width="12" height="12" fill="#000"/>
<path d="M289 278 H453" stroke="#ff3c3c" stroke-width="4" stroke-linecap="round"/>
<circle cx="371" cy="278" r="10" fill="#ff0000"/>
<path d="M289 368 H453" stroke="#0070e0" stroke-width="4" stroke-linecap="round"/>
<path d="M370.5 360 l7.5 13 h-15z" fill="#0070e0"/>
<g class="ff" font-size="77" fill="#000">
<text transform="translate(473.2 212.8) scale(0.953 1)">IONP</text>
<text transform="translate(473.2 302.9) scale(0.953 1)">IONP@AO1</text>
<text transform="translate(473.2 392.7) scale(0.953 1)">IONP@AO2</text>
</g>
</svg>
</body></html>
